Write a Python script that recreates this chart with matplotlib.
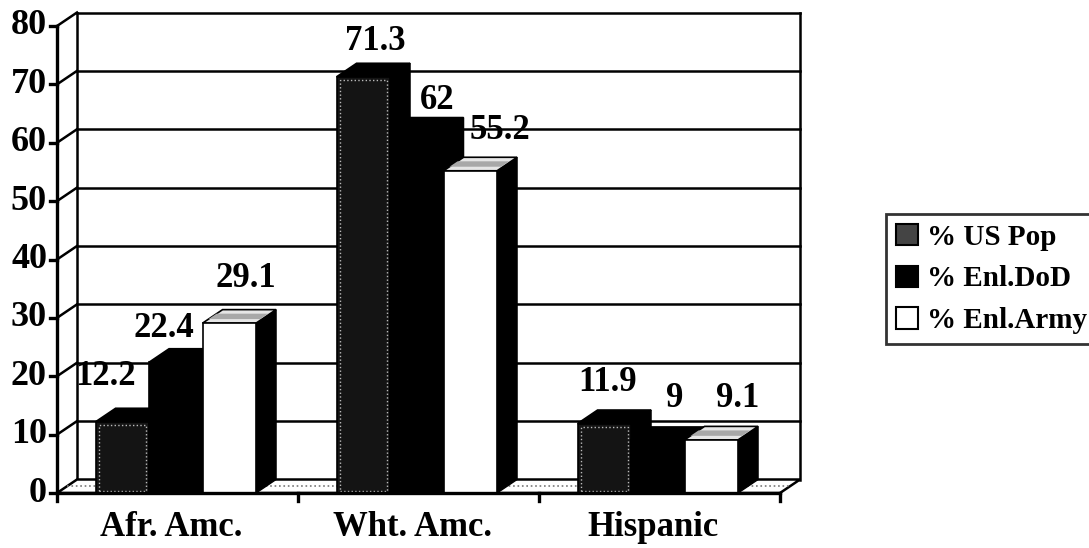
import numpy as np
import matplotlib.pyplot as plt
from matplotlib.patches import Polygon, Rectangle, Patch

# data
categories = ['Afr. Amc.', 'Wht. Amc.', 'Hispanic']
series_names = ['% US Pop', '% Enl.DoD', '% Enl.Army']
us_pop = [12.2, 71.3, 11.9]
enl_dod = [22.4, 62, 9]
enl_army = [29.1, 55.2, 9.1]
y_ticks = [0, 10, 20, 30, 40, 50, 60, 70, 80]

plt.rcParams['font.family'] = ['Liberation Serif', 'DejaVu Serif']
plt.rcParams['font.weight'] = 'bold'

W, H, DPI = 1089, 548, 100
fig = plt.figure(figsize=(W / DPI, H / DPI), dpi=DPI)

# front plane of the pseudo-3D plot, in pixels
left_px, right_px, base_px, top_px = 57, 780, 493, 26
ax = fig.add_axes([left_px / W, 1 - base_px / H,
                   (right_px - left_px) / W, (base_px - top_px) / H])
n_cat = len(categories)
y_max = y_ticks[-1]
ax.set_xlim(0, n_cat)
ax.set_ylim(0, y_max)
ax.axis('off')

px_x = n_cat / (right_px - left_px)
px_y = y_max / (base_px - top_px)
DX = 20 * px_x      # depth offset, horizontal
DY = 13.5 * px_y    # depth offset, vertical

LW = 1.8
kw = dict(clip_on=False, solid_capstyle='projecting')

# back wall + gridlines
for v in y_ticks[1:]:
    ax.plot([DX, n_cat + DX], [v + DY, v + DY], color='black', lw=LW, zorder=1, **kw)
    ax.plot([0, DX], [v, v + DY], color='black', lw=LW, zorder=1, **kw)
ax.plot([DX, DX], [DY, y_max + DY], color='black', lw=LW, zorder=1, **kw)
ax.plot([n_cat + DX, n_cat + DX], [DY, y_max + DY], color='black', lw=LW, zorder=1, **kw)

# floor
floor = Polygon([(0, 0), (DX, DY), (n_cat + DX, DY), (n_cat, 0)], closed=True,
                fc='white', ec='black', lw=LW, zorder=2, clip_on=False)
ax.add_patch(floor)
ax.plot([DX * 0.5, n_cat + DX * 0.5], [DY * 0.5, DY * 0.5], color='#777777',
        lw=1.2, ls=':', zorder=2, clip_on=False)

# front y axis and ticks
ax.plot([0, 0], [-8 * px_y, y_max], color='black', lw=2.4, zorder=50, **kw)
ax.plot([0, n_cat], [0, 0], color='black', lw=2.4, zorder=50, **kw)
for v in y_ticks:
    ax.plot([-7 * px_x, 0], [v, v], color='black', lw=2.4, zorder=50, **kw)
    ax.text(-10 * px_x, v, str(v), ha='right', va='center', fontsize=26,
            fontweight='bold')
for i in range(1, n_cat + 1):
    ax.plot([i, i], [0, -8 * px_y], color='black', lw=2.4, zorder=50, **kw)
for i, c in enumerate(categories):
    ax.text(i + 0.5 - 6 * px_x, -34 * px_y, c, ha='center', va='center',
            fontsize=25, fontweight='bold')

# bars
bar_w = 0.222
first_off = 0.16
series = [us_pop, enl_dod, enl_army]
front_cols = ['#141414', 'black', 'white']
top_cols = ['black', 'black', '#e6e6e6']
side_cols = ['black', 'black', 'black']

# label nudges (px) to mimic the reference placement
label_dx = [[-27, -22, 6], [2, 10, 20], [-7, 7, 16]]
label_dy = [45, 34, 45], [35, 31, 40], [41, 42, 41]

z = 10
for i in range(n_cat):
    for j, vals in enumerate(series):
        h = vals[i]
        x0 = i + first_off + j * bar_w
        x1 = x0 + bar_w
        side = Polygon([(x1, 0), (x1 + DX, DY), (x1 + DX, h + DY), (x1, h)],
                       closed=True, fc=side_cols[j], ec='black', lw=1,
                       zorder=z, clip_on=False)
        top = Polygon([(x0, h), (x0 + DX, h + DY), (x1 + DX, h + DY), (x1, h)],
                      closed=True, fc=top_cols[j], ec='black', lw=1.2,
                      zorder=z, clip_on=False)
        front = Rectangle((x0, 0), bar_w, h, fc=front_cols[j], ec='black',
                          lw=1.2, zorder=z + 1, clip_on=False)
        ax.add_patch(side)
        ax.add_patch(top)
        ax.add_patch(front)
        if j == 0:
            # dotted light frame on the stippled series
            ax.add_patch(Rectangle((x0 + 3 * px_x, 2 * px_y), bar_w - 6 * px_x,
                                   h - 5 * px_y, fill=False, ec='#bbbbbb',
                                   lw=1, ls=':', zorder=z + 2, clip_on=False))
        if j == 2:
            ax.add_patch(Polygon([(x0 + 0.3 * DX, h + 0.3 * DY),
                                  (x0 + 0.7 * DX, h + 0.7 * DY),
                                  (x1 + 0.6 * DX, h + 0.7 * DY),
                                  (x1 + 0.2 * DX, h + 0.3 * DY)],
                                 closed=True, fc='#a8a8a8', ec='none',
                                 zorder=z + 1, clip_on=False))
        ax.text(x0 + bar_w / 2 + DX / 2 + label_dx[i][j] * px_x,
                h + label_dy[i][j] * px_y, f'{h:g}', ha='center', va='center',
                fontsize=25, fontweight='bold', zorder=60)
        z += 3

# legend
handles = [Patch(fc='#444444', ec='black', lw=1.5),
           Patch(fc='black', ec='black', lw=1.5),
           Patch(fc='white', ec='black', lw=1.5)]
leg = fig.legend(handles, series_names, loc='center left',
                 bbox_to_anchor=(886 / W, 1 - 279 / H), frameon=True,
                 fancybox=False, edgecolor='black', fontsize=21,
                 handlelength=0.75, handleheight=0.75, handletextpad=0.3,
                 labelspacing=0.5, borderpad=0.35, borderaxespad=0)
leg.get_frame().set_linewidth(2)
for t in leg.get_texts():
    t.set_fontweight('bold')

fig.savefig('out.png', dpi=DPI)
